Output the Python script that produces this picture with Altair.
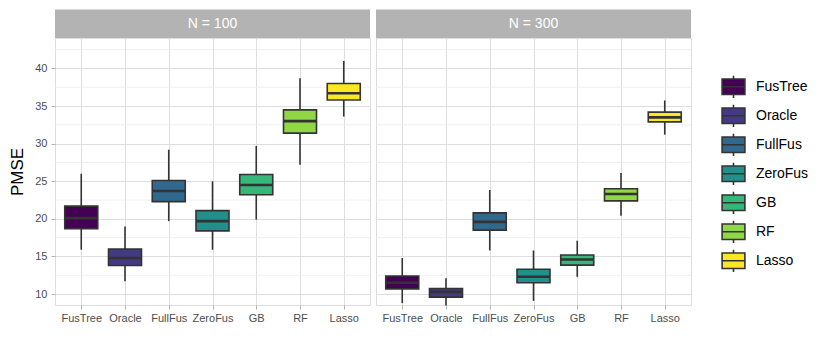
import altair as alt
import pandas as pd

methods = ["FusTree", "Oracle", "FullFus", "ZeroFus", "GB", "RF", "Lasso"]
colors = ["#440154", "#443A83", "#31688E", "#21908C", "#35B779", "#8FD744", "#FDE725"]

# N = 100 : whisker low, q1, median, q3, whisker high
n100_low = [15.9, 11.7, 19.7, 15.9, 19.9, 27.2, 33.6]
n100_q1 = [18.7, 13.8, 22.3, 18.4, 23.2, 31.4, 35.8]
n100_med = [20.1, 14.8, 23.7, 19.7, 24.5, 33.0, 36.7]
n100_q3 = [21.7, 16.0, 25.1, 21.1, 25.9, 34.5, 38.0]
n100_high = [26.0, 19.0, 29.2, 25.0, 29.7, 38.7, 41.0]

# N = 300
n300_low = [8.8, 8.5, 15.8, 9.1, 12.3, 20.4, 31.2]
n300_q1 = [10.7, 9.6, 18.5, 11.5, 13.85, 22.4, 32.9]
n300_med = [11.5, 10.3, 19.6, 12.3, 14.6, 23.3, 33.5]
n300_q3 = [12.4, 10.75, 20.8, 13.3, 15.2, 24.0, 34.2]
n300_high = [14.8, 12.1, 23.85, 15.8, 17.1, 26.1, 35.75]

y_ticks = [10, 15, 20, 25, 30, 35, 40]
y_minor = [12.5, 17.5, 22.5, 27.5, 32.5, 37.5, 42.5]
y_domain = [8.55, 44.05]

FONT = "Liberation Sans"
W, H = 315, 267
STRIP_H = 28.4
BOX_W = 33

PATH = "M-1,-0.68H1V0.68H-1Z M-1,0H1 M0,-1V-0.68 M0,0.68V1"


def panel(label, low, q1, med, q3, high, show_y):
    df = pd.DataFrame({"method": methods, "low": low, "q1": q1, "med": med,
                       "q3": q3, "high": high})
    xenc = alt.X("method:N", sort=methods,
                 scale=alt.Scale(type="point", padding=0.6),
                 axis=alt.Axis(title=None, labelColor="#4D4D4D", labelFontSize=11,
                               labelFont=FONT, tickColor="#B3B3B3", tickSize=4,
                               labelPadding=3, domain=False, grid=True,
                               gridColor="#DEDEDE", labelAngle=0))
    yscale = alt.Scale(domain=y_domain, nice=False, zero=False)
    if show_y:
        yaxis = alt.Axis(values=y_ticks, title="PMSE", titleFontSize=17,
                         titleFont=FONT, titleFontWeight="normal", titleColor="#000000",
                         labelColor="#4D4D4D", labelFontSize=11, labelFont=FONT,
                         tickColor="#B3B3B3", tickSize=4, labelPadding=4,
                         titlePadding=8, domain=False, grid=True, gridColor="#DEDEDE")
    else:
        yaxis = alt.Axis(values=y_ticks, title=None, labels=False, ticks=False,
                         domain=False, grid=True, gridColor="#DEDEDE", minExtent=0)

    minor = alt.Chart(pd.DataFrame({"v": y_minor})).mark_rule(
        color="#EDEDED", strokeWidth=0.8).encode(
        y=alt.Y("v:Q", scale=yscale, axis=yaxis))

    base = alt.Chart(df)
    whisk = base.mark_rule(color="#333333", strokeWidth=1.6).encode(
        x=xenc, y=alt.Y("low:Q", scale=yscale, axis=yaxis), y2="high:Q")
    box = base.mark_bar(size=BOX_W, stroke="#333333", strokeWidth=1.6,
                        opacity=1).encode(
        x=xenc, y=alt.Y("q1:Q", scale=yscale, axis=yaxis), y2="q3:Q",
        color=alt.Color("method:N", sort=methods,
                        scale=alt.Scale(domain=methods, range=colors),
                        legend=alt.Legend(title=None, symbolType=PATH,
                                          symbolSize=520, symbolStrokeColor="#333333",
                                          symbolStrokeWidth=1.6, labelFontSize=14,
                                          labelFont=FONT, labelColor="#000000",
                                          rowPadding=6, clipHeight=22.4,
                                          labelOffset=10, padding=0,
                                          orient="none", legendX=666, legendY=37.6)))
    median = base.mark_tick(size=BOX_W, thickness=2.6, color="#333333",
                            opacity=1).encode(
        x=xenc, y=alt.Y("med:Q", scale=yscale, axis=yaxis))

    strip_df = pd.DataFrame({"label": [label]})
    strip = alt.Chart(strip_df).mark_rect(color="#B3B3B3").encode(
        x=alt.value(0), x2=alt.value(W), y=alt.value(-STRIP_H), y2=alt.value(0))
    strip_txt = alt.Chart(strip_df).mark_text(
        color="#FFFFFF", fontSize=14, font=FONT, baseline="middle").encode(
        x=alt.value(W / 2), y=alt.value(-STRIP_H / 2), text="label:N")

    return alt.layer(minor, whisk, box, median, strip, strip_txt).properties(
        width=W, height=H)


p1 = panel("N = 100", n100_low, n100_q1, n100_med, n100_q3, n100_high, True)
p2 = panel("N = 300", n300_low, n300_q1, n300_med, n300_q3, n300_high, False)

chart = alt.hconcat(p1, p2, spacing=4).resolve_scale(color="shared").properties(
    padding={"left": 0, "top": 1, "right": 0, "bottom": 0}
).configure_view(stroke="#B3B3B3", strokeWidth=1).configure(background="#FFFFFF")

chart.save("out.html", embed_options={"renderer": "svg", "actions": False})
